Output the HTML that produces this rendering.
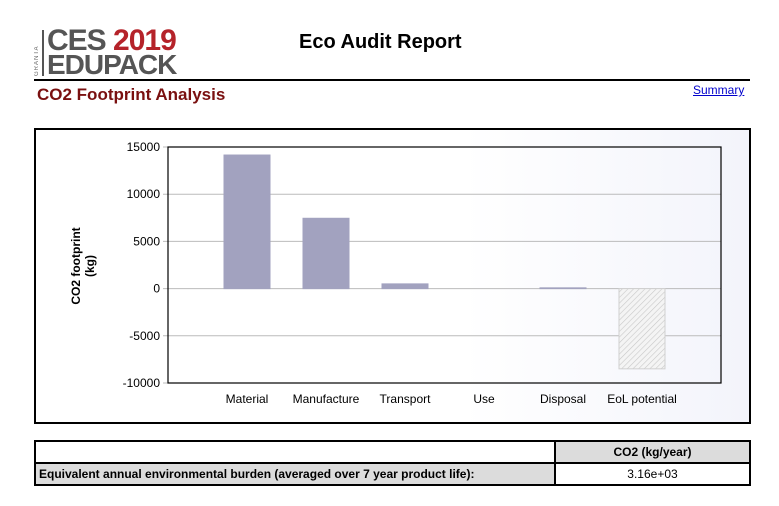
<!DOCTYPE html>
<html><head><meta charset="utf-8"><style>
body{margin:0;width:779px;height:506px;background:#fff;position:relative;font-family:"Liberation Sans",Arial,sans-serif;overflow:hidden}
.abs{position:absolute}
</style></head><body>
<div class="abs" style="left:34px;top:28px;width:190px;height:50px">
 <div class="abs" style="left:0;top:2px;width:7px;height:46px;font-size:6px;color:#666;writing-mode:vertical-rl;transform:rotate(180deg);letter-spacing:1px">GRANTA</div>
 <div class="abs" style="left:8px;top:2px;width:2px;height:46px;background:#555"></div>
 <div class="abs" style="left:13px;top:-2px;font-size:30px;font-weight:bold;color:#555;letter-spacing:-1px;line-height:30px">CES <span style="color:#b5232a">2019</span></div>
 <div class="abs" style="left:13px;top:23px;font-size:28px;font-weight:bold;color:#555;letter-spacing:-1px;line-height:28px">EDUPACK</div>
</div>
<div class="abs" style="left:299px;top:31px;font-size:20px;font-weight:bold">Eco Audit Report</div>
<div class="abs" style="left:34px;top:79px;width:716px;height:2px;background:#000"></div>
<div class="abs" style="left:37px;top:85px;font-size:17px;font-weight:bold;color:#7a1010">CO2 Footprint Analysis</div>
<a class="abs" style="left:693px;top:83px;font-size:12px;color:#00c;text-decoration:underline">Summary</a>
<div class="abs" style="left:34px;top:128px;width:713px;height:292px;border:2px solid #000;background:linear-gradient(90deg,#fff 60%,#f3f4fb)"></div>
<svg class="abs" style="left:0;top:0" width="779" height="506">
<defs><pattern id="hatch" width="4" height="4" patternUnits="userSpaceOnUse" patternTransform="rotate(45)"><rect width="4" height="4" fill="#f4f4f4"/><line x1="0" y1="0" x2="0" y2="4" stroke="#c8c8c8" stroke-width="1.2"/></pattern></defs>
<g id="g"></g></svg>
<div class="abs" style="left:83px;top:266px;transform:translate(-50%,-50%) rotate(-90deg);font-size:12px;font-weight:bold;text-align:center;line-height:14px;white-space:nowrap">CO2 footprint<br>(kg)</div>
<div class="abs" style="left:34px;top:440px;width:713px;height:42px;border:2px solid #000;font-size:12px">
 <div class="abs" style="left:0;top:0;width:518px;height:20px;border-right:2px solid #000;border-bottom:2px solid #000"></div>
 <div class="abs" style="left:520px;top:0;width:193px;height:20px;border-bottom:2px solid #000;background:#dcdcdc;text-align:center;line-height:20px;font-weight:bold">CO2 (kg/year)</div>
 <div class="abs" style="left:0;top:22px;width:515px;height:20px;border-right:2px solid #000;background:#dcdcdc;line-height:20px;padding-left:3px;font-weight:bold">Equivalent annual environmental burden (averaged over 7 year product life):</div>
 <div class="abs" style="left:520px;top:22px;width:193px;height:20px;text-align:center;line-height:20px">3.16e+03</div>
</div>
<script>
const categories=["Material","Manufacture","Transport","Use","Disposal","EoL potential"];
const values=[14150,7450,500,0,80,-8500];
const ticks=[15000,10000,5000,0,-5000,-10000];
const NS="http://www.w3.org/2000/svg",g=document.getElementById('g');
const L=168,R=721,T=147,B=383,ymax=15000,ymin=-10000;
const y=v=>T+(ymax-v)/(ymax-ymin)*(B-T);
const bw=(R-L)/(categories.length+1);
const x=i=>L+bw*(i+1);
function mk(t,a){const e=document.createElementNS(NS,t);for(const k in a)e.setAttribute(k,a[k]);g.appendChild(e);return e;}
ticks.forEach(t=>{
 const l=mk('line',{x1:L-5,x2:R,y1:y(t),y2:y(t),stroke:'#bbb','stroke-width':1});
 
 
 const tx=mk('text',{x:L-8,y:y(t)+4,'text-anchor':'end','font-size':12,'font-family':'Liberation Sans, sans-serif'});
 tx.textContent=t;
 
 
});
values.forEach((v,i)=>{
 const top=Math.min(y(v),y(0)),h=Math.abs(y(v)-y(0));
 const r=mk('rect',{x:x(i)-23,y:top,width:46,height:h,fill:v<0?'url(#hatch)':'#a2a2bf',stroke:v===0?'none':(v<0?'#d0d0d0':'#a2a2bf')});
 
 
 const tx=mk('text',{x:x(i),y:B+20,'text-anchor':'middle','font-size':12,'font-family':'Liberation Sans, sans-serif'});
 tx.textContent=categories[i];
 
 
});
const f=mk('rect',{x:L,y:T,width:R-L,height:B-T,fill:'none',stroke:'#000','stroke-width':1.2});


</script>
</body></html>
